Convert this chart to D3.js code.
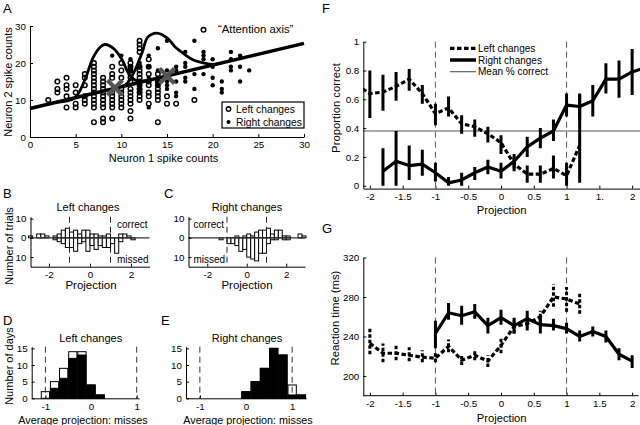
<!DOCTYPE html>
<html><head><meta charset="utf-8">
<script src="https://cdn.jsdelivr.net/npm/d3@7"></script>
<style>
body{margin:0;background:#fff}
svg{display:block}
text{font-family:"Liberation Sans",Arial,Helvetica,sans-serif;fill:#000}
</style></head><body>
<svg id="c" width="640" height="425"></svg>
<script>
// ---------- Panel A data ----------
const leftTrials = [[2,10],[3,15],[3,13],[3,12],[4,16],[4,14],[4,13],[4,11],[4,8],[5,14],[5,12],[5,9],[5,8],
 [6,17],[6,16],[6,14],[6,11],[6,10],[6,9],
 [7,20],[7,19],[7,18],[7,17],[7,16],[7,15],[7,14],[7,13],[7,12],[7,11],[7,10],[7,9],[7,8],[7,4],
 [8,16],[8,15],[8,14],[8,13],[8,12],[8,11],[8,10],[8,9],[8,8],[8,5],[8,4],
 [9,19],[9,17],[9,16],[9,12],[9,11],[9,10],[9,9],[9,8],[9,5],
 [10,20],[10,18],[10,16],[10,13],[10,12],[10,11],[10,10],[10,9],[10,8],
 [11,20],[11,19],[11,18],[11,17],[11,16],[11,15],[11,13],[11,12],[11,11],[11,10],[11,9],[11,7],[11,5],
 [12,26],[12,25],[12,24],[12,23],[12,19],[12,18],[12,17],[12,16],[12,15],[12,14],[12,13],[12,12],[12,11],[12,10],
 [13,21],[13,19],[13,17],[13,15],[13,14],[13,12],[13,11],[13,9],
 [14,17],[14,15],[14,14],[14,13],[14,12],[14,11],[14,10],[14,4],
 [15,11],[15,9],[16,9],[18,10],[19,29]];
const rightTrials = [[9,22],[10,22],[11,21],[11,19],[11,18],[12,20],[12,19],[12,14],[12,13],[12,12],
 [13,22],[13,19],[13,16],[13,15],[13,8],[14,24],[14,18],[14,16],[14,15],[14,14],
 [15,26],[15,18],[15,15],[15,14],[15,13],[16,19],[16,18],[16,15],[16,12],[16,11],
 [17,23],[17,20],[17,19],[17,16],[17,15],[18,26],[18,17],[18,13],[19,23],[19,22],[19,21],[19,17],
 [20,21],[20,19],[20,16],[20,14],[21,15],[21,13],[21,12],[22,23],[22,21],[22,19],[22,18],
 [23,22],[23,19],[23,15],[24,18]];
const axisN1 = [0, 30];
const axisN2 = [7.7, 25.3];
const leftDensity = [[3,9.46],[4.9,10.6],[6,15.4],[6.9,21.4],[7.7,24.3],[8.2,25],[9.1,24],[10.1,20.8],[10.7,17.6],[11.5,15.4],[13,15.3]];
const rightDensity = [[10,13.6],[10.6,14.4],[11.5,18.1],[12.3,23],[12.9,27],[13.9,28.1],[15.1,26.6],[15.9,24.3],[17,22.2],[17.9,20.8],[19,20],[20,19.6],[21,20.0]];
const classMeans = [[9.3,13.3],[15,16.5]];
const aTicksX = [0,5,10,15,20,25,30];
const aTicksY = [0,10,20,30];

// ---------- Panels B, C ----------
const projBins = [-2.9,-2.7,-2.5,-2.3,-2.1,-1.9,-1.7,-1.5,-1.3,-1.1,-0.9,-0.7,-0.5,-0.3,-0.1,0.1,0.3,0.5,0.7,0.9,1.1,1.3,1.5,1.7,1.9,2.1,2.3,2.5,2.7,2.9];
const bLeftCorrect = [1,0,2,2,1,0,1,2,4,5,3,4,2,4,4,2,2,1,1,2,0,0,2,2,1,0,0,0,0,0];
const bLeftMissed  = [0,0,0,0,0,0,1,2,3,5,5,7,3,2,7,4,6,4,5,5,3,8,2,0,0,1,0,0,0,0];
const cRightCorrect = [0,0,0,0,0,0,0,0,0,0,0,0,1,0,1,2,1,3,4,4,5,2,4,4,1,1,0,0,2,1];
const cRightMissed  = [0,0,0,0,0,0,0,0,1,0,3,3,4,7,6,10,11,12,8,8,3,1,1,0,1,1,0,0,0,0];
const bcTicksX = [-2,0,2];
const bcTicksY = [10,0,-10];

// ---------- Panels D, E ----------
const dBins = [-1,-0.8,-0.6,-0.4,-0.2,0,0.2];
const dTotal = [2,5,9,14,14,4,1];
const dBlack = [0,3,6,12,13,4,1];
const eBins = [0,0.2,0.4,0.6,0.8,1.0,1.2];
const eTotal = [2,5,9,15,13,4,1];
const eBlack = [2,5,9,15,13,1,1];
const deTicksX = [-1,0,1];
const deTicksY = [0,5,10,15];

// ---------- Panel F ----------
const fLeftX  = [-2.2,-2,-1.8,-1.6,-1.4,-1.2,-1,-0.8,-0.6,-0.4,-0.2,0,0.2,0.4,0.6,0.8,1,1.2];
const fLeftY  = [0.70,0.64,0.65,0.69,0.74,0.64,0.50,0.54,0.43,0.41,0.36,0.30,0.15,0.08,0.08,0.12,0.07,0.28];
const fLeftLo = [null,0.47,0.52,0.59,0.66,0.57,0.42,0.48,0.36,0.34,0.30,0.22,0.10,0.02,0.02,0.05,0.00,0.02];
const fLeftHi = [null,0.80,0.77,0.79,0.81,0.70,0.57,0.62,0.49,0.46,0.41,0.35,0.20,0.14,0.14,0.21,0.16,0.63];
const fRightX  = [-1.8,-1.6,-1.4,-1.2,-1,-0.8,-0.6,-0.4,-0.2,0,0.2,0.4,0.6,0.8,1,1.2,1.4,1.6,1.8,2,2.2];
const fRightY  = [0.10,0.17,0.14,0.15,0.09,0.02,0.04,0.09,0.13,0.10,0.17,0.27,0.33,0.38,0.56,0.55,0.59,0.74,0.74,0.79,0.82];
const fRightLo = [0.00,0.00,0.04,0.07,0.03,0.00,0.00,0.04,0.08,0.05,0.12,0.20,0.26,0.31,0.48,0.46,0.48,0.64,0.61,0.63,null];
const fRightHi = [0.26,0.38,0.28,0.25,0.16,0.06,0.09,0.13,0.18,0.16,0.22,0.34,0.40,0.46,0.64,0.64,0.70,0.85,0.87,0.95,null];
const meanCorrect = 0.38;
const fgTicksX = [-2,-1.5,-1,-0.5,0,0.5,1,1.5,2];
const fTickLabels = ["-2","-1.5","-1","-0.5","0","0.5","1","1.","2"];
const fTicksY = [0,0.2,0.4,0.6,0.8,1];

// ---------- Panel G ----------
const gRightX  = [-1,-0.8,-0.6,-0.4,-0.2,0,0.2,0.4,0.6,0.8,1,1.2,1.4,1.6,1.8,2];
const gRightY  = [243,264,261,265,251,259,251,258,252,251,248,240,245,240,222,215];
const gRightLo = [228,257,252,258,243,252,243,249,243,246,243,235,240,234,216,208];
const gRightHi = [256,274,271,273,259,267,259,266,260,258,254,246,250,246,228,221];
const gLeftX  = [-2,-1.8,-1.6,-1.4,-1.2,-1,-0.8,-0.6,-0.4,-0.2,0,0.2,0.4,0.6,0.8,1,1.2];
const gLeftY  = [233,223,223,221,219,218,230,216,221,215,231,250,253,260,280,278,273];
const gLeftLo = [222,214,216,215,214,214,224,211,216,209,223,243,246,254,270,265,263];
const gLeftHi = [248,233,232,229,226,223,237,221,227,221,239,256,260,266,293,290,285];
const gTicksY = [200,240,280,320];

// ================== drawing ==================
const svg = d3.select('#c');
const FONT = '"Liberation Sans",Arial,Helvetica,sans-serif';

function styleAxis(g){
  g.select('.domain').attr('stroke','#000').attr('stroke-width',1);
  g.selectAll('.tick line').attr('stroke','#000');
  g.selectAll('.tick text').attr('font-size',9.8).attr('font-family',FONT).attr('fill','#000');
}
function xAxis(x, y0, values, fmt){
  const g = svg.append('g').attr('transform',`translate(0,${y0})`)
    .call(d3.axisBottom(x).tickValues(values).tickSizeInner(-3).tickSizeOuter(0).tickPadding(4.5).tickFormat(fmt || (d=>String(d))));
  styleAxis(g); return g;
}
function yAxis(y, x0, values, fmt){
  const g = svg.append('g').attr('transform',`translate(${x0},0)`)
    .call(d3.axisLeft(y).tickValues(values).tickSizeInner(-3).tickSizeOuter(0).tickPadding(4).tickFormat(fmt || (d=>String(d))));
  styleAxis(g); return g;
}
function txt(x,y,s,size,anchor,rot){
  const t = svg.append('text').attr('x',x).attr('y',y).attr('font-size',size).attr('text-anchor',anchor||'middle').text(s);
  if(rot) t.attr('transform',`rotate(-90,${x},${y})`).attr('dominant-baseline','central');
  return t;
}

// ---------- A ----------
{
  const x = d3.scaleLinear([0,30],[30,304]);
  const y = d3.scaleLinear([0,30],[137,26]);
  svg.append('g').selectAll('circle').data(leftTrials).join('circle')
    .attr('cx',d=>x(d[0])).attr('cy',d=>y(d[1])).attr('r',2.3)
    .attr('fill','none').attr('stroke','#000').attr('stroke-width',1.45);
  svg.append('g').selectAll('circle').data(rightTrials).join('circle')
    .attr('cx',d=>x(d[0])).attr('cy',d=>y(d[1])).attr('r',2.2).attr('fill','#000');
  const line = d3.line().x(d=>x(d[0])).y(d=>y(d[1])).curve(d3.curveCatmullRom);
  svg.append('path').attr('d',line(leftDensity)).attr('fill','none').attr('stroke','#000').attr('stroke-width',2.8);
  svg.append('path').attr('d',line(rightDensity)).attr('fill','none').attr('stroke','#000').attr('stroke-width',2.8);
  svg.append('line').attr('x1',x(axisN1[0])).attr('y1',y(axisN2[0])).attr('x2',x(axisN1[1])).attr('y2',y(axisN2[1]))
    .attr('stroke','#000').attr('stroke-width',3.5);
  const s = 7.5;
  svg.append('g').selectAll('path').data(classMeans).join('path')
    .attr('d',d=>{const cx=x(d[0]),cy=y(d[1]);return `M${cx-s},${cy-s}L${cx+s},${cy+s}M${cx-s},${cy+s}L${cx+s},${cy-s}`;})
    .attr('stroke','#555').attr('stroke-width',4.2).attr('fill','none');
  xAxis(x,137,aTicksX);
  yAxis(y,30,aTicksY);
  txt(218,33,'\u201CAttention axis\u201D',11.3,'start');
  // legend
  svg.append('rect').attr('x',222).attr('y',102).attr('width',82).attr('height',26).attr('fill','#fff').attr('stroke','#000').attr('stroke-width',1.2);
  svg.append('circle').attr('cx',228.5).attr('cy',109).attr('r',2.2).attr('fill','none').attr('stroke','#000').attr('stroke-width',1.4);
  svg.append('circle').attr('cx',228.5).attr('cy',122).attr('r',2).attr('fill','#000');
  txt(236,112.8,'Left changes',10.3,'start');
  txt(236,126,'Right changes',10.3,'start');
  txt(163.5,162,'Neuron 1 spike counts',11);
  txt(8,82,'Neuron 2 spike counts',11,'middle',true);
  txt(3,13,'A',13,'start');
}

// ---------- B, C ----------
function histPanel(x, correct, missed, title, titleX, labX){
  const y = d3.scaleLinear([-15,11],[266.7,216.7]);
  const bw = x(0.2)-x(0);
  const g = svg.append('g');
  g.selectAll('rect.up').data(projBins.map((c,i)=>[c,correct[i]]).filter(d=>d[1]>0)).join('rect')
    .attr('x',d=>x(d[0])-bw/2).attr('width',bw).attr('y',d=>y(d[1])).attr('height',d=>y(0)-y(d[1]))
    .attr('fill','#fff').attr('stroke','#000').attr('stroke-width',1);
  g.selectAll('rect.dn').data(projBins.map((c,i)=>[c,missed[i]]).filter(d=>d[1]>0)).join('rect')
    .attr('x',d=>x(d[0])-bw/2).attr('width',bw).attr('y',y(0)).attr('height',d=>y(-d[1])-y(0))
    .attr('fill','#fff').attr('stroke','#000').attr('stroke-width',1);
  svg.append('line').attr('x1',x.range()[0]).attr('x2',x.range()[1]).attr('y1',y(0)).attr('y2',y(0)).attr('stroke','#333').attr('stroke-width',1.2);
  [-1,1].forEach(v=>svg.append('line').attr('x1',x(v)).attr('x2',x(v)).attr('y1',y(11)).attr('y2',y(-15))
    .attr('stroke','#222').attr('stroke-width',1).attr('stroke-dasharray','6,4'));
  xAxis(x,266.7,bcTicksX);
  yAxis(y,x.range()[0],bcTicksY,d=>String(Math.abs(d)));
  txt(titleX,211,title,11);
  txt(labX,289,'Projection',11.5);
  return y;
}
{
  const xB = d3.scaleLinear([-2.9,2.9],[30.5,149.5]);
  histPanel(xB,bLeftCorrect,bLeftMissed,'Left changes',88,91);
  txt(117,228,'correct',10,'start');
  txt(117,263,'missed',10,'start');
  const xC = d3.scaleLinear([-2.95,2.95],[188.5,305]);
  histPanel(xC,cRightCorrect,cRightMissed,'Right changes',247,247);
  txt(193.5,228,'correct',10,'start');
  txt(193.5,263,'missed',10,'start');
  txt(9,246,'Number of trials',11,'middle',true);
  txt(3,198,'B',13,'start');
  txt(164,198,'C',13,'start');
}

// ---------- D, E ----------
function dayPanel(x, bins, total, black, title, cx, lx){
  const y = d3.scaleLinear([0,15.5],[398.3,346.7]);
  const bw = (x(0.2)-x(0))*0.9;
  svg.append('g').selectAll('rect').data(bins.map((b,i)=>[b,total[i]]).filter(d=>d[1]>0)).join('rect')
    .attr('x',d=>x(d[0])-bw/2).attr('width',bw).attr('y',d=>y(d[1])).attr('height',d=>y(0)-y(d[1]))
    .attr('fill','#fff').attr('stroke','#000').attr('stroke-width',1);
  svg.append('g').selectAll('rect').data(bins.map((b,i)=>[b,black[i]]).filter(d=>d[1]>0)).join('rect')
    .attr('x',d=>x(d[0])-bw/2).attr('width',bw).attr('y',d=>y(d[1])).attr('height',d=>y(0)-y(d[1]))
    .attr('fill','#000').attr('stroke','#000').attr('stroke-width',1);
  [-1,1].forEach(v=>svg.append('line').attr('x1',x(v)).attr('x2',x(v)).attr('y1',y(15.5)).attr('y2',y(0))
    .attr('stroke','#333').attr('stroke-width',1).attr('stroke-dasharray','6,4'));
  xAxis(x,398.3,deTicksX);
  yAxis(y,x.range()[0],deTicksY);
  txt(cx,342,title,11);
  txt(lx,424,'Average projection: misses',10.8);
}
{
  const xD = d3.scaleLinear([-1.3,1.05],[31.7,139]);
  dayPanel(xD,dBins,dTotal,dBlack,'Left changes',90.7,83);
  const xE = d3.scaleLinear([-1.3,1.3],[186,306]);
  dayPanel(xE,eBins,eTotal,eBlack,'Right changes',247,248);
  txt(9,366,'Number of days',11,'middle',true);
  txt(3,325,'D',13,'start');
  txt(161,325,'E',13,'start');
}

// ---------- F ----------
svg.append('defs').html('<clipPath id="clipF"><rect x="363.3" y="20" width="277" height="175"/></clipPath><clipPath id="clipG"><rect x="363.3" y="240" width="276" height="160"/></clipPath>');
function seriesPanel(x, y, clipId, X, Y, Lo, Hi, dashed, barDash){
  const g = svg.append('g').attr('clip-path',`url(#${clipId})`);
  const pts = X.map((v,i)=>[v,Y[i]]);
  g.append('path').attr('d',d3.line().x(d=>x(d[0])).y(d=>y(d[1]))(pts))
    .attr('fill','none').attr('stroke','#000').attr('stroke-width',3.2)
    .attr('stroke-dasharray',dashed?'4.5,2.5':null).attr('stroke-linejoin','round');
  g.selectAll('line.eb').data(X.map((v,i)=>[v,Lo[i],Hi[i]]).filter(d=>d[1]!=null)).join('line')
    .attr('x1',d=>x(d[0])).attr('x2',d=>x(d[0])).attr('y1',d=>y(d[1])).attr('y2',d=>y(d[2]))
    .attr('stroke','#000').attr('stroke-width',3).attr('stroke-dasharray',barDash||null);
}
{
  const x = d3.scaleLinear([-2.1,2.12],[363.3,640]);
  const y = d3.scaleLinear([-0.02,1],[188.6,41.7]);
  [-1,1].forEach(v=>svg.append('line').attr('x1',x(v)).attr('x2',x(v)).attr('y1',y(1)).attr('y2',y(0))
    .attr('stroke','#555').attr('stroke-width',1).attr('stroke-dasharray','6,4'));
  svg.append('line').attr('x1',363.3).attr('x2',640).attr('y1',y(meanCorrect)).attr('y2',y(meanCorrect)).attr('stroke','#555').attr('stroke-width',1.1);
  seriesPanel(x,y,'clipF',fLeftX,fLeftY,fLeftLo,fLeftHi,true,null);
  seriesPanel(x,y,'clipF',fRightX,fRightY,fRightLo,fRightHi,false,null);
  xAxis(x,188.6,fgTicksX,(d,i)=>fTickLabels[i]);
  yAxis(y,363.3,fTicksY);
  // legend
  svg.append('line').attr('x1',450).attr('x2',476).attr('y1',48.3).attr('y2',48.3).attr('stroke','#000').attr('stroke-width',3.2).attr('stroke-dasharray','4.5,2.5');
  svg.append('line').attr('x1',450).attr('x2',476).attr('y1',60).attr('y2',60).attr('stroke','#000').attr('stroke-width',3.5);
  svg.append('line').attr('x1',450).attr('x2',476).attr('y1',71.7).attr('y2',71.7).attr('stroke','#555').attr('stroke-width',1.1);
  txt(478,51.8,'Left changes',10,'start');
  txt(478,63.5,'Right changes',10,'start');
  txt(478,75.2,'Mean % correct',10,'start');
  txt(501.7,214,'Projection',11.2);
  txt(336,108,'Proportion correct',11.3,'middle',true);
  txt(322,13,'F',13,'start');
}

// ---------- G ----------
{
  const x = d3.scaleLinear([-2.1,2.12],[363.3,640]);
  const y = d3.scaleLinear([180,320],[395.7,257.5]);
  [-1,1].forEach(v=>svg.append('line').attr('x1',x(v)).attr('x2',x(v)).attr('y1',y(320)).attr('y2',y(180))
    .attr('stroke','#555').attr('stroke-width',1).attr('stroke-dasharray','6,4'));
  seriesPanel(x,y,'clipG',gLeftX,gLeftY,gLeftLo,gLeftHi,true,'3.5,2');
  seriesPanel(x,y,'clipG',gRightX,gRightY,gRightLo,gRightHi,false,null);
  const ax = xAxis(x,395.7,fgTicksX);
  ax.select('.domain').attr('d','M363.3,0H638.5');
  yAxis(y,363.3,gTicksY);
  txt(501.7,422,'Projection',11.2);
  txt(335,318,'Reaction time (ms)',11.3,'middle',true);
  txt(322,233,'G',13,'start');
}
</script>
</body></html>
